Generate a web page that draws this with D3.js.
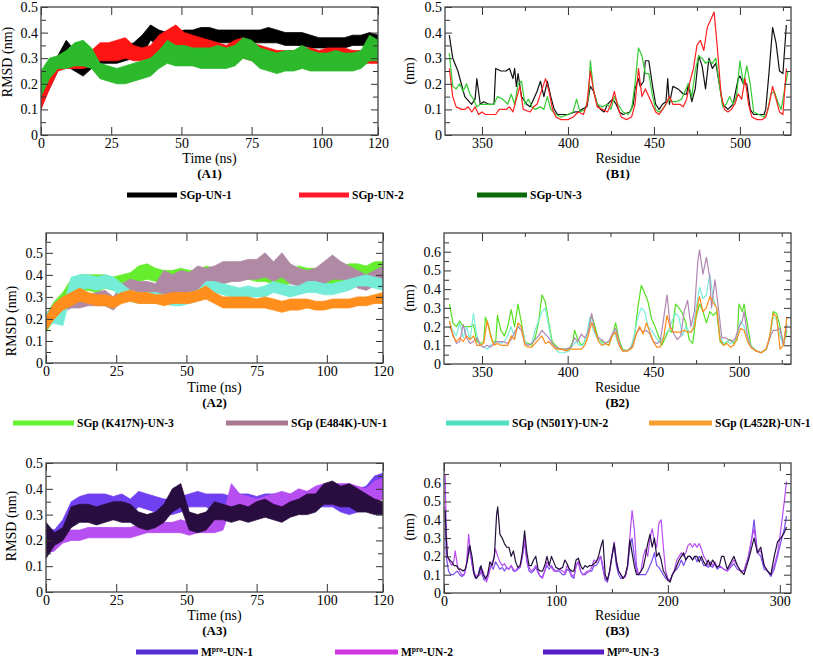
<!DOCTYPE html>
<html><head><meta charset="utf-8">
<script src="https://cdn.jsdelivr.net/npm/d3@7"></script>
<style>body{margin:0;background:#fff}svg{display:block}text{font-family:"Liberation Serif","Times New Roman",serif}</style>
</head><body><svg id="c" width="813" height="658"></svg>
<script>
// ---------------- DATA ----------------
const timeNs = [0,3,6,9,12,15,18,21,24,27,30,33,36,39,42,45,48,51,54,57,60,63,66,69,72,75,78,81,84,87,90,93,96,99,102,105,108,111,114,117,120];
const timeTicks = [0,25,50,75,100,120];
const rmsdTicks = [0,0.1,0.2,0.3,0.4,0.5];
const rmsfTicks6 = [0,0.1,0.2,0.3,0.4,0.5,0.6];
const rbdTicks = [350,400,450,500];
const mproTicks = [0,100,200,300];

// A1 : RMSD bands [low, high] per time point (nm)
const a1UN1 = [[.12,.22],[.18,.26],[.25,.31],[.27,.37],[.25,.33],[.23,.28],[.26,.32],[.28,.33],[.28,.33],[.28,.34],[.29,.35],[.30,.36],[.31,.39],[.37,.43],[.35,.41],[.34,.40],[.33,.40],[.36,.41],[.36,.41],[.36,.42],[.37,.42],[.36,.41],[.36,.41],[.36,.41],[.36,.41],[.36,.41],[.36,.41],[.36,.42],[.36,.41],[.35,.40],[.35,.40],[.35,.40],[.34,.39],[.34,.38],[.34,.38],[.34,.38],[.34,.38],[.35,.39],[.35,.39],[.35,.40],[.35,.39]];
const a1UN2 = [[.10,.20],[.18,.27],[.25,.31],[.26,.32],[.26,.33],[.26,.32],[.27,.33],[.29,.36],[.29,.36],[.29,.37],[.30,.38],[.29,.35],[.29,.34],[.30,.35],[.32,.39],[.33,.41],[.34,.43],[.33,.40],[.32,.39],[.30,.38],[.29,.37],[.28,.36],[.28,.35],[.29,.37],[.30,.38],[.29,.36],[.28,.35],[.27,.34],[.27,.33],[.27,.33],[.26,.33],[.27,.34],[.27,.34],[.27,.33],[.27,.34],[.28,.34],[.28,.34],[.27,.33],[.28,.33],[.28,.33],[.28,.33]];
const a1UN3 = [[.15,.25],[.22,.30],[.26,.31],[.26,.33],[.27,.36],[.27,.37],[.26,.34],[.22,.28],[.21,.27],[.20,.26],[.20,.27],[.21,.28],[.22,.29],[.23,.30],[.26,.33],[.28,.37],[.27,.35],[.27,.35],[.27,.34],[.26,.34],[.26,.34],[.26,.35],[.26,.34],[.27,.35],[.30,.38],[.29,.37],[.26,.34],[.25,.33],[.24,.32],[.25,.33],[.25,.33],[.26,.35],[.25,.33],[.25,.32],[.25,.32],[.25,.33],[.25,.32],[.25,.32],[.26,.33],[.29,.39],[.29,.37]];

// A2
const a2K417N = [[.14,.22],[.20,.28],[.25,.32],[.30,.38],[.33,.40],[.33,.40],[.32,.40],[.34,.40],[.33,.39],[.34,.40],[.35,.41],[.37,.44],[.38,.45],[.37,.43],[.37,.42],[.35,.42],[.35,.43],[.36,.42],[.35,.42],[.36,.44],[.37,.43],[.36,.43],[.37,.44],[.38,.45],[.38,.45],[.37,.44],[.37,.43],[.36,.43],[.35,.42],[.36,.42],[.37,.44],[.37,.43],[.36,.43],[.35,.42],[.36,.43],[.37,.44],[.38,.45],[.39,.45],[.38,.44],[.39,.46],[.40,.46]];
const a2E484K = [[.15,.22],[.20,.27],[.23,.30],[.25,.31],[.25,.32],[.26,.31],[.26,.32],[.26,.33],[.24,.30],[.28,.36],[.29,.38],[.29,.37],[.30,.37],[.29,.36],[.30,.42],[.31,.40],[.32,.42],[.31,.41],[.32,.44],[.33,.43],[.33,.44],[.36,.46],[.37,.46],[.37,.46],[.38,.47],[.38,.47],[.39,.50],[.37,.46],[.39,.50],[.36,.45],[.35,.43],[.34,.42],[.34,.43],[.36,.46],[.38,.49],[.38,.46],[.37,.44],[.34,.42],[.33,.40],[.35,.42],[.36,.44]];
const a2N501Y = [[.17,.22],[.18,.26],[.17,.25],[.32,.39],[.33,.40],[.34,.40],[.33,.39],[.34,.40],[.33,.39],[.30,.36],[.28,.33],[.27,.32],[.27,.32],[.27,.32],[.27,.31],[.26,.31],[.26,.31],[.27,.32],[.28,.33],[.31,.37],[.32,.37],[.31,.36],[.30,.35],[.30,.34],[.30,.35],[.30,.34],[.30,.35],[.32,.37],[.31,.36],[.30,.35],[.31,.35],[.32,.37],[.32,.37],[.31,.36],[.31,.36],[.32,.37],[.33,.38],[.35,.39],[.35,.40],[.34,.39],[.33,.38]];
const a2L452R = [[.15,.21],[.20,.27],[.24,.30],[.26,.32],[.28,.34],[.27,.32],[.26,.31],[.26,.31],[.25,.30],[.27,.32],[.28,.33],[.27,.32],[.27,.32],[.27,.31],[.26,.31],[.27,.32],[.27,.32],[.27,.32],[.28,.33],[.29,.35],[.27,.32],[.25,.30],[.25,.30],[.25,.30],[.25,.30],[.25,.29],[.25,.30],[.24,.29],[.23,.28],[.24,.29],[.24,.29],[.25,.29],[.24,.28],[.24,.28],[.25,.29],[.25,.29],[.25,.29],[.26,.30],[.26,.30],[.27,.31],[.27,.32]];

// A3
const a3UN1 = [[.15,.25],[.16,.24],[.20,.28],[.29,.35],[.30,.37],[.31,.38],[.31,.38],[.32,.38],[.31,.37],[.31,.38],[.30,.36],[.33,.39],[.32,.38],[.31,.37],[.30,.36],[.30,.36],[.31,.37],[.33,.38],[.33,.39],[.33,.38],[.31,.38],[.32,.38],[.31,.37],[.32,.38],[.31,.38],[.30,.37],[.31,.38],[.32,.38],[.31,.37],[.32,.38],[.31,.38],[.33,.39],[.33,.40],[.33,.40],[.33,.41],[.31,.39],[.30,.38],[.31,.40],[.33,.41],[.37,.45],[.38,.46]];
const a3UN2 = [[.15,.23],[.16,.21],[.19,.23],[.20,.24],[.20,.24],[.21,.25],[.21,.25],[.21,.25],[.21,.25],[.21,.25],[.21,.25],[.22,.26],[.23,.27],[.23,.27],[.23,.27],[.23,.27],[.23,.28],[.22,.27],[.23,.27],[.23,.28],[.23,.28],[.24,.29],[.33,.42],[.30,.38],[.29,.37],[.29,.36],[.30,.37],[.30,.38],[.32,.39],[.31,.38],[.32,.40],[.31,.39],[.33,.41],[.34,.42],[.34,.42],[.34,.42],[.34,.42],[.33,.41],[.33,.40],[.35,.43],[.36,.44]];
const a3UN3 = [[.13,.27],[.18,.23],[.20,.25],[.25,.33],[.27,.34],[.27,.34],[.26,.33],[.27,.34],[.28,.35],[.27,.35],[.27,.34],[.25,.31],[.24,.30],[.25,.31],[.27,.34],[.31,.40],[.33,.42],[.24,.31],[.23,.30],[.24,.31],[.28,.35],[.28,.34],[.27,.33],[.28,.34],[.27,.33],[.28,.35],[.29,.36],[.28,.34],[.27,.33],[.29,.35],[.30,.36],[.30,.38],[.31,.38],[.34,.42],[.34,.43],[.33,.41],[.33,.42],[.31,.40],[.31,.38],[.30,.36],[.30,.35]];

// B1 : RMSF [residue, nm]
const b1UN1 = [[331,.39],[333,.30],[336,.25],[338,.20],[340,.15],[344,.12],[346,.14],[347,.22],[349,.12],[351,.13],[354,.12],[357,.12],[358,.26],[361,.25],[364,.25],[366,.26],[368,.22],[369,.26],[370,.19],[371,.24],[373,.15],[376,.12],[378,.11],[380,.14],[382,.17],[384,.21],[386,.15],[388,.21],[390,.15],[392,.10],[394,.08],[397,.08],[400,.08],[404,.09],[406,.09],[408,.10],[411,.11],[413,.19],[415,.17],[417,.12],[419,.10],[421,.09],[423,.12],[426,.14],[428,.12],[430,.09],[432,.08],[436,.09],[438,.12],[439,.18],[441,.22],[442,.19],[444,.21],[445,.29],[447,.29],[449,.20],[451,.12],[453,.10],[455,.12],[457,.13],[458,.22],[459,.12],[461,.19],[464,.18],[467,.16],[469,.16],[470,.20],[472,.13],[474,.18],[476,.31],[478,.27],[480,.18],[482,.30],[484,.26],[486,.28],[488,.20],[490,.12],[493,.10],[496,.12],[499,.22],[500,.23],[502,.20],[504,.20],[506,.10],[508,.08],[512,.08],[514,.08],[515,.10],[517,.25],[519,.42],[521,.36],[523,.25],[525,.24],[527,.43]];
const b1UN2 = [[331,.26],[333,.15],[335,.11],[338,.10],[340,.10],[342,.11],[344,.09],[346,.11],[348,.08],[350,.09],[352,.08],[356,.08],[358,.08],[360,.10],[364,.10],[366,.11],[368,.09],[370,.14],[372,.19],[374,.10],[378,.09],[380,.11],[382,.12],[385,.18],[387,.22],[389,.17],[391,.10],[393,.07],[396,.06],[400,.06],[403,.07],[406,.09],[409,.08],[411,.12],[413,.25],[415,.17],[417,.11],[420,.10],[423,.09],[425,.12],[427,.17],[429,.11],[431,.07],[434,.06],[437,.07],[439,.12],[441,.26],[443,.15],[445,.18],[447,.15],[449,.12],[451,.09],[453,.08],[455,.10],[457,.12],[459,.15],[461,.12],[463,.12],[465,.12],[467,.11],[469,.14],[471,.21],[473,.26],[475,.35],[477,.37],[479,.33],[481,.42],[483,.45],[485,.48],[487,.33],[489,.16],[491,.10],[493,.09],[495,.10],[497,.12],[499,.16],[501,.14],[503,.22],[505,.12],[507,.07],[510,.06],[513,.06],[515,.07],[517,.12],[519,.19],[521,.14],[523,.09],[525,.08],[527,.26]];
const b1UN3 = [[331,.32],[333,.19],[335,.18],[337,.20],[339,.17],[341,.20],[343,.16],[345,.14],[347,.11],[349,.12],[351,.12],[354,.12],[357,.12],[359,.15],[362,.14],[365,.12],[367,.16],[369,.12],[371,.20],[373,.21],[375,.12],[377,.14],[379,.11],[381,.10],[384,.11],[386,.10],[388,.15],[390,.10],[393,.08],[396,.07],[400,.08],[403,.09],[405,.14],[407,.09],[410,.10],[412,.15],[413,.29],[415,.17],[417,.12],[420,.11],[423,.12],[425,.10],[427,.15],[429,.12],[432,.09],[435,.08],[437,.10],[439,.20],[441,.34],[443,.31],[445,.24],[447,.24],[449,.16],[451,.10],[453,.09],[455,.10],[457,.12],[459,.14],[461,.13],[463,.13],[466,.14],[468,.17],[470,.20],[472,.15],[474,.25],[476,.31],[478,.30],[480,.28],[482,.29],[484,.28],[486,.30],[488,.20],[490,.11],[492,.12],[494,.15],[496,.12],[498,.15],[500,.29],[502,.20],[504,.27],[506,.20],[508,.09],[511,.08],[514,.07],[516,.09],[518,.16],[520,.17],[522,.13],[524,.10],[526,.18],[528,.25]];

// B2
const b2K417N = [[331,.32],[333,.22],[335,.20],[337,.23],[339,.20],[341,.20],[343,.20],[345,.21],[347,.12],[349,.11],[351,.12],[352,.25],[354,.20],[356,.12],[358,.12],[359,.26],[361,.18],[363,.15],[365,.20],[367,.29],[369,.20],[371,.32],[373,.22],[375,.12],[377,.11],[379,.10],[381,.14],[383,.22],[385,.37],[387,.33],[389,.22],[391,.12],[393,.10],[395,.08],[398,.08],[401,.08],[403,.12],[404,.18],[406,.13],[408,.10],[410,.12],[412,.18],[414,.26],[416,.20],[418,.13],[420,.12],[422,.11],[424,.10],[426,.15],[428,.22],[430,.13],[432,.08],[435,.07],[437,.09],[439,.15],[441,.30],[443,.42],[445,.38],[447,.33],[449,.24],[451,.20],[453,.15],[455,.10],[457,.14],[459,.18],[461,.17],[463,.32],[465,.30],[467,.27],[469,.22],[471,.13],[473,.11],[475,.25],[477,.32],[479,.28],[481,.22],[483,.28],[485,.26],[487,.28],[489,.12],[491,.10],[493,.12],[495,.13],[497,.11],[499,.13],[500,.32],[502,.28],[503,.32],[505,.21],[507,.10],[510,.07],[513,.06],[516,.08],[518,.14],[520,.28],[522,.27],[524,.20],[526,.10],[528,.18]];
const b2E484K = [[331,.20],[333,.16],[335,.11],[337,.12],[339,.21],[341,.14],[343,.11],[345,.12],[347,.14],[349,.10],[351,.09],[353,.10],[355,.09],[357,.11],[359,.12],[362,.12],[365,.11],[367,.13],[369,.17],[371,.20],[373,.18],[375,.11],[377,.10],[379,.11],[381,.13],[383,.15],[385,.18],[387,.16],[389,.14],[391,.11],[393,.09],[396,.08],[399,.08],[402,.09],[404,.14],[406,.12],[408,.16],[410,.14],[412,.17],[414,.27],[416,.17],[418,.14],[420,.13],[422,.11],[424,.12],[426,.16],[428,.19],[430,.12],[432,.07],[435,.07],[438,.10],[440,.16],[442,.19],[444,.17],[446,.18],[448,.16],[450,.12],[452,.11],[454,.12],[456,.24],[458,.37],[460,.20],[462,.16],[464,.13],[466,.15],[468,.28],[470,.34],[472,.20],[474,.28],[476,.55],[477,.61],[479,.48],[481,.57],[483,.46],[484,.30],[486,.45],[488,.30],[490,.14],[492,.14],[494,.13],[496,.12],[498,.14],[500,.20],[502,.23],[503,.28],[505,.15],[507,.09],[510,.07],[513,.06],[516,.08],[518,.14],[520,.18],[522,.18],[524,.19],[526,.10],[528,.21]];
const b2N501Y = [[331,.22],[333,.18],[335,.15],[337,.22],[339,.14],[341,.20],[343,.13],[345,.27],[347,.15],[349,.10],[351,.09],[353,.08],[355,.10],[357,.11],[359,.12],[361,.11],[363,.12],[365,.15],[367,.20],[369,.14],[371,.20],[373,.20],[375,.12],[377,.10],[379,.11],[381,.18],[383,.23],[385,.28],[387,.30],[389,.20],[391,.10],[393,.08],[395,.06],[398,.06],[401,.07],[403,.10],[405,.12],[407,.10],[409,.10],[411,.15],[413,.25],[415,.18],[417,.14],[419,.12],[421,.10],[423,.12],[425,.12],[427,.18],[429,.12],[431,.08],[434,.07],[437,.08],[439,.16],[441,.25],[443,.30],[445,.28],[447,.20],[449,.18],[451,.15],[453,.12],[455,.13],[457,.16],[459,.18],[461,.23],[463,.27],[465,.25],[467,.15],[469,.20],[471,.17],[473,.18],[475,.30],[477,.41],[479,.35],[481,.37],[483,.48],[485,.35],[487,.30],[489,.15],[491,.11],[493,.12],[495,.11],[497,.12],[499,.15],[501,.23],[503,.20],[505,.14],[507,.10],[510,.07],[513,.06],[516,.08],[518,.15],[520,.25],[522,.24],[524,.15],[526,.10],[528,.22]];
const b2L452R = [[331,.23],[333,.15],[335,.12],[337,.14],[339,.12],[341,.15],[343,.13],[345,.15],[347,.10],[349,.10],[351,.11],[353,.23],[355,.15],[357,.10],[359,.11],[361,.10],[363,.10],[365,.10],[367,.15],[369,.13],[371,.22],[373,.20],[375,.10],[377,.09],[379,.09],[381,.11],[383,.13],[385,.15],[387,.11],[389,.12],[391,.10],[393,.08],[396,.08],[399,.07],[402,.08],[405,.08],[408,.08],[410,.10],[412,.15],[414,.22],[416,.18],[418,.12],[420,.10],[422,.11],[424,.10],[426,.15],[428,.17],[430,.10],[432,.07],[435,.07],[438,.09],[440,.16],[442,.20],[444,.16],[446,.22],[448,.17],[450,.12],[452,.09],[454,.09],[456,.14],[458,.26],[460,.19],[462,.17],[464,.17],[466,.17],[468,.18],[470,.17],[472,.17],[474,.20],[476,.32],[477,.36],[479,.28],[481,.30],[483,.36],[485,.33],[487,.30],[489,.13],[491,.10],[493,.11],[495,.09],[497,.10],[499,.14],[501,.19],[503,.18],[505,.12],[507,.09],[510,.07],[513,.06],[516,.08],[518,.15],[520,.27],[522,.25],[524,.08],[526,.10],[528,.25]];

// B3
const b3UN3 = [[1,.45],[2,.30],[3,.20],[5,.18],[7,.17],[9,.15],[11,.15],[13,.13],[15,.13],[17,.12],[19,.13],[21,.18],[23,.26],[25,.20],[27,.10],[29,.08],[31,.10],[33,.15],[35,.10],[37,.08],[39,.10],[41,.17],[43,.15],[45,.20],[47,.43],[48,.47],[50,.32],[52,.30],[54,.27],[56,.25],[58,.25],[60,.20],[62,.23],[64,.17],[66,.14],[68,.15],[70,.22],[72,.34],[74,.22],[76,.15],[78,.15],[80,.18],[82,.20],[84,.13],[86,.12],[88,.12],[90,.15],[92,.20],[94,.15],[96,.20],[98,.17],[100,.14],[103,.13],[106,.14],[108,.18],[110,.16],[112,.13],[114,.12],[116,.12],[118,.18],[120,.19],[122,.15],[124,.13],[126,.15],[128,.14],[130,.15],[132,.15],[134,.16],[136,.17],[138,.20],[140,.25],[142,.29],[144,.10],[146,.07],[148,.12],[150,.20],[152,.27],[154,.17],[156,.12],[158,.10],[160,.08],[162,.10],[164,.15],[166,.29],[168,.22],[170,.15],[172,.10],[174,.10],[176,.12],[178,.14],[180,.20],[182,.27],[184,.32],[186,.25],[188,.30],[190,.20],[192,.22],[194,.18],[196,.12],[198,.10],[200,.07],[202,.06],[204,.10],[206,.12],[208,.15],[210,.18],[212,.20],[214,.22],[216,.18],[218,.20],[220,.20],[222,.18],[224,.20],[226,.20],[228,.17],[230,.20],[232,.17],[234,.15],[236,.18],[238,.15],[240,.18],[242,.16],[244,.14],[246,.15],[248,.20],[250,.20],[253,.13],[259,.20],[262,.15],[265,.12],[268,.10],[272,.18],[277,.30],[280,.22],[283,.25],[286,.15],[289,.12],[292,.10],[295,.20],[298,.28],[301,.30],[304,.33],[306,.36]];
const b3UN2 = [[1,.65],[2,.35],[3,.20],[5,.17],[7,.15],[9,.18],[10,.23],[12,.15],[14,.12],[16,.10],[18,.10],[20,.15],[22,.32],[24,.20],[26,.13],[28,.10],[30,.09],[32,.10],[34,.13],[36,.10],[38,.06],[40,.10],[42,.15],[44,.18],[46,.24],[48,.20],[50,.17],[52,.15],[54,.16],[56,.14],[58,.13],[60,.15],[62,.13],[64,.12],[66,.14],[68,.14],[70,.20],[72,.30],[74,.18],[76,.14],[78,.12],[80,.13],[82,.15],[84,.12],[86,.09],[88,.08],[90,.12],[92,.17],[94,.15],[96,.14],[98,.12],[100,.12],[103,.13],[106,.12],[108,.11],[110,.15],[112,.13],[114,.10],[116,.09],[118,.15],[120,.17],[122,.12],[124,.10],[126,.11],[128,.12],[130,.12],[132,.14],[134,.18],[136,.17],[138,.19],[140,.20],[142,.15],[144,.08],[146,.07],[148,.12],[150,.20],[152,.28],[154,.18],[156,.12],[158,.10],[160,.08],[162,.09],[164,.15],[166,.30],[168,.45],[170,.35],[172,.15],[174,.10],[176,.12],[178,.20],[180,.24],[182,.20],[184,.30],[186,.35],[188,.28],[190,.25],[192,.38],[194,.40],[196,.25],[198,.12],[200,.08],[202,.07],[204,.10],[206,.13],[208,.18],[210,.20],[212,.22],[214,.20],[216,.22],[218,.26],[220,.27],[222,.25],[224,.27],[226,.25],[228,.27],[230,.24],[232,.20],[234,.18],[236,.15],[238,.17],[240,.15],[242,.17],[244,.14],[246,.15],[248,.14],[250,.13],[253,.12],[256,.15],[259,.18],[262,.15],[265,.12],[268,.12],[272,.20],[275,.30],[277,.35],[280,.22],[283,.23],[286,.15],[289,.12],[292,.10],[295,.15],[298,.22],[301,.35],[304,.50],[306,.61]];
const b3UN1 = [[1,.47],[2,.20],[4,.12],[6,.10],[8,.10],[10,.11],[12,.12],[14,.10],[16,.09],[18,.10],[20,.15],[22,.25],[24,.20],[26,.12],[28,.08],[30,.09],[32,.14],[34,.10],[36,.07],[38,.08],[40,.12],[42,.15],[44,.13],[46,.17],[48,.15],[50,.13],[52,.14],[54,.12],[56,.14],[58,.13],[60,.15],[62,.12],[64,.12],[66,.13],[68,.14],[70,.20],[72,.28],[74,.17],[76,.12],[78,.11],[80,.12],[82,.14],[84,.11],[86,.09],[88,.09],[90,.12],[92,.15],[94,.13],[96,.15],[98,.13],[100,.12],[103,.12],[106,.10],[108,.10],[110,.13],[112,.12],[114,.09],[116,.08],[118,.15],[120,.17],[122,.12],[124,.10],[126,.10],[128,.11],[130,.12],[132,.12],[134,.15],[136,.15],[138,.17],[140,.20],[142,.13],[144,.07],[146,.06],[148,.12],[150,.20],[152,.26],[154,.15],[156,.10],[158,.08],[160,.08],[162,.09],[164,.14],[166,.25],[168,.30],[170,.20],[172,.12],[174,.10],[176,.10],[178,.10],[180,.10],[182,.12],[184,.15],[186,.18],[188,.22],[190,.15],[192,.14],[194,.12],[196,.10],[198,.08],[200,.07],[202,.07],[204,.10],[206,.12],[208,.13],[210,.15],[212,.18],[214,.15],[216,.18],[218,.20],[220,.20],[222,.18],[224,.20],[226,.17],[228,.20],[230,.18],[232,.15],[234,.15],[236,.14],[238,.15],[240,.14],[242,.16],[244,.13],[246,.14],[248,.14],[250,.13],[253,.12],[256,.14],[259,.16],[262,.13],[265,.12],[268,.12],[272,.20],[275,.30],[277,.40],[280,.22],[283,.20],[286,.13],[289,.12],[292,.09],[295,.13],[298,.20],[301,.28],[304,.35],[306,.42]];

// Legend labels
const legendRow1 = ["SGp-UN-1","SGp-UN-2","SGp-UN-3"];
const legendRow2 = ["SGp (K417N)-UN-3","SGp (E484K)-UN-1","SGp (N501Y)-UN-2","SGp (L452R)-UN-1"];
const legendRow3 = ["-UN-1","-UN-2","-UN-3"];

// ---------------- DRAW ----------------
const svg = d3.select('#c');
const FONT = '"Liberation Serif","Times New Roman",serif';
const fmtY = d => d === 0 ? '0' : d.toFixed(1);

function panel(p, drawFn) {
  const x = d3.scaleLinear().domain(p.xd).range([p.x0, p.x1]);
  const y = d3.scaleLinear().domain(p.yd).range([p.y1, p.y0]);
  const id = 'clip' + p.tag.replace(/\W/g,'');
  svg.append('clipPath').attr('id', id).append('rect')
    .attr('x', p.x0).attr('y', p.y0).attr('width', p.x1 - p.x0).attr('height', p.y1 - p.y0);
  const g = svg.append('g').attr('clip-path', `url(#${id})`);
  drawFn(g, x, y);
  const style = sel => {
    sel.select('.domain').remove();
    sel.attr('font-family', FONT).attr('font-size', 14);
    sel.selectAll('line').attr('stroke', '#333').attr('stroke-width', 1);
    sel.selectAll('text').attr('fill', '#000');
  };
  svg.append('g').attr('transform', `translate(0,${p.y1})`)
    .call(d3.axisBottom(x).tickValues(p.xt).tickFormat(d3.format('d')).tickSizeInner(-8).tickSizeOuter(0).tickPadding(3)).call(style);
  svg.append('g').attr('transform', `translate(0,${p.y0})`)
    .call(d3.axisTop(x).tickValues(p.xt).tickFormat('').tickSizeInner(-8).tickSizeOuter(0)).call(style);
  if (p.xm) {
    svg.append('g').attr('transform', `translate(0,${p.y1})`)
      .call(d3.axisBottom(x).tickValues(p.xm).tickFormat('').tickSizeInner(-4).tickSizeOuter(0)).call(style);
    svg.append('g').attr('transform', `translate(0,${p.y0})`)
      .call(d3.axisTop(x).tickValues(p.xm).tickFormat('').tickSizeInner(-4).tickSizeOuter(0)).call(style);
  }
  svg.append('g').attr('transform', `translate(${p.x0},0)`)
    .call(d3.axisLeft(y).tickValues(p.yt).tickFormat(fmtY).tickSizeInner(-7).tickSizeOuter(0).tickPadding(3)).call(style);
  svg.append('g').attr('transform', `translate(${p.x1},0)`)
    .call(d3.axisRight(y).tickValues(p.yt).tickFormat('').tickSizeInner(-7).tickSizeOuter(0)).call(style);
  svg.append('g').attr('transform', `translate(${p.x0},0)`)
    .call(d3.axisLeft(y).tickValues(p.ym).tickFormat('').tickSizeInner(-5).tickSizeOuter(0)).call(style);
  svg.append('g').attr('transform', `translate(${p.x1},0)`)
    .call(d3.axisRight(y).tickValues(p.ym).tickFormat('').tickSizeInner(-5).tickSizeOuter(0)).call(style);
  svg.append('rect').attr('x', p.x0).attr('y', p.y0).attr('width', p.x1 - p.x0).attr('height', p.y1 - p.y0)
    .attr('fill', 'none').attr('stroke', '#444').attr('stroke-width', 1.3);
  const cx = (p.x0 + p.x1) / 2;
  svg.append('text').attr('x', cx).attr('y', p.labY).attr('text-anchor', 'middle')
    .attr('font-family', FONT).attr('font-size', 14).text(p.xlab);
  svg.append('text').attr('x', cx).attr('y', p.labY + 15).attr('text-anchor', 'middle')
    .attr('font-family', FONT).attr('font-size', 13).attr('font-weight', 'bold').text(p.tag);
  svg.append('text').attr('transform', `translate(${p.ylx},${p.yly}) rotate(-90)`).attr('text-anchor', 'middle')
    .attr('font-family', FONT).attr('font-size', 14).text(p.ylab);
}

function bands(series) {
  return (g, x, y) => {
    series.forEach(s => {
      const area = d3.area().x((d, i) => x(timeNs[i])).y0(d => y(d[0])).y1(d => y(d[1]));
      g.append('path').datum(s.data).attr('d', area).attr('fill', s.color)
        .attr('stroke', s.color).attr('stroke-width', 0.8).attr('stroke-linejoin', 'round');
    });
  };
}
function lines(series) {
  return (g, x, y) => {
    series.forEach(s => {
      const line = d3.line().x(d => x(d[0])).y(d => y(d[1]));
      g.append('path').datum(s.data).attr('d', line).attr('fill', 'none')
        .attr('stroke', s.color).attr('stroke-width', 1.2).attr('stroke-linejoin', 'round');
    });
  };
}

const ymA = [0.05,0.15,0.25,0.35,0.45];
const ymB = [0.05,0.15,0.25,0.35,0.45,0.55,0.65];

panel({tag:'(A1)', x0:41, x1:378, y0:7, y1:135, xd:[0,120], yd:[0,0.5], xt:timeTicks, yt:rmsdTicks, ym:ymA,
  xlab:'Time (ns)', labY:163, ylab:'RMSD (nm)', ylx:12, yly:62},
  bands([{data:a1UN1,color:'#000000'},{data:a1UN2,color:'#ff1414'},{data:a1UN3,color:'#2cba2c'}]));
panel({tag:'(B1)', x0:445, x1:791, y0:7, y1:135, xd:[328.5,529.7], yd:[0,0.5], xt:rbdTicks, xm:[375,425,475,525], yt:rmsdTicks, ym:ymA,
  xlab:'Residue', labY:163, ylab:'(nm)', ylx:414, yly:71},
  lines([{data:b1UN1,color:'#111111'},{data:b1UN3,color:'#33cc33'},{data:b1UN2,color:'#ff2020'}]));

panel({tag:'(A2)', x0:46, x1:383, y0:233, y1:363, xd:[0,120], yd:[0,0.59], xt:timeTicks, yt:rmsdTicks, ym:ymB.slice(0,6),
  xlab:'Time (ns)', labY:392, ylab:'RMSD (nm)', ylx:16, yly:321},
  bands([{data:a2K417N,color:'#66ee2e'},{data:a2E484K,color:'#b08aa4'},{data:a2N501Y,color:'#74ecd8'},{data:a2L452R,color:'#ff8e1c'}]));
panel({tag:'(B2)', x0:444, x1:791, y0:233, y1:364, xd:[327.8,530.4], yd:[0,0.7], xt:rbdTicks, xm:[375,425,475,525], yt:rmsfTicks6, ym:ymB,
  xlab:'Residue', labY:392, ylab:'(nm)', ylx:414, yly:298},
  lines([{data:b2K417N,color:'#55e022'},{data:b2N501Y,color:'#7aeedd'},{data:b2E484K,color:'#b286b2'},{data:b2L452R,color:'#ff8c1a'}]));

panel({tag:'(A3)', x0:46, x1:383, y0:463, y1:592, xd:[0,120], yd:[0,0.5], xt:timeTicks, yt:rmsdTicks, ym:ymA,
  xlab:'Time (ns)', labY:620, ylab:'RMSD (nm)', ylx:16, yly:526},
  bands([{data:a3UN1,color:'#7040f0'},{data:a3UN2,color:'#b64ef2'},{data:a3UN3,color:'#2a0d40'}]));
panel({tag:'(B3)', x0:444, x1:791, y0:463, y1:593, xd:[0,310], yd:[0,0.71], xt:mproTicks, xm:[50,150,250], yt:rmsfTicks6, ym:ymB,
  xlab:'Residue', labY:620, ylab:'(nm)', ylx:414, yly:527},
  lines([{data:b3UN1,color:'#7a4cf0'},{data:b3UN2,color:'#b84cf0'},{data:b3UN3,color:'#22103a'}]));

// Legends
function legendItem(x1, x2, yy, color, label, sup) {
  svg.append('line').attr('x1', x1).attr('x2', x2).attr('y1', yy).attr('y2', yy)
    .attr('stroke', color).attr('stroke-width', 5);
  const t = svg.append('text').attr('x', x2 + 3).attr('y', yy + 4).attr('font-family', FONT)
    .attr('font-size', 11.5).attr('font-weight', 'bold');
  if (sup) {
    t.append('tspan').text('M');
    t.append('tspan').attr('font-size', 7.5).attr('dy', -4).text('pro');
    t.append('tspan').attr('dy', 4).text(label);
  } else t.text(label);
}
[[127,177,'#000000'],[299,349,'#ff1a2a'],[477,527,'#0a6a0a']].forEach((d, i) => legendItem(d[0], d[1], 195, d[2], legendRow1[i]));
[[13,74,'#66f233'],[226,288,'#a87a90'],[446,509,'#4fe0c2'],[649,712,'#f7a030']].forEach((d, i) => legendItem(d[0], d[1], 423, d[2], legendRow2[i]));
[[136,198,'#5530d0'],[335,398,'#d035e0'],[543,604,'#5a1ec8']].forEach((d, i) => legendItem(d[0], d[1], 652, d[2], legendRow3[i], true));
</script></body></html>
